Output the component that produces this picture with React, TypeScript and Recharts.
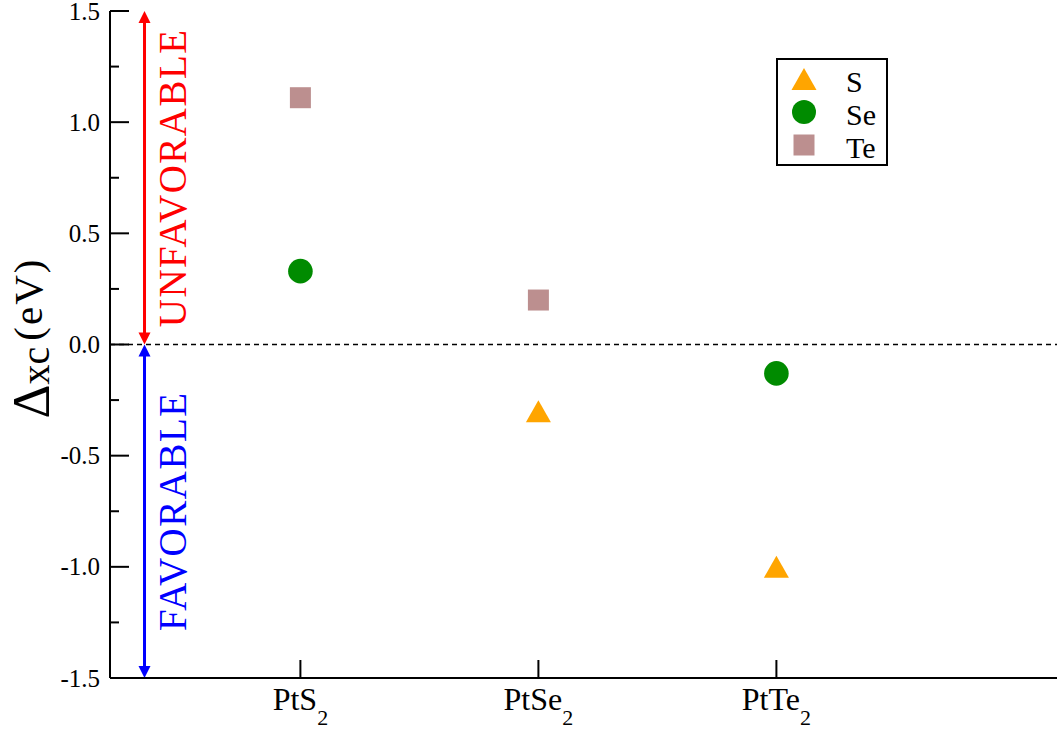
import React from 'react';
import { ScatterChart, Scatter, XAxis, YAxis, ReferenceLine, Legend } from 'recharts';

// ---- data ----
const categories = ['PtS2', 'PtSe2', 'PtTe2'];
const sValues: (number | null)[] = [null, -0.3, -1.0];
const seValues: (number | null)[] = [0.33, null, -0.13];
const teValues: (number | null)[] = [1.11, 0.2, null];
const yTicks = [-1.5, -1.25, -1.0, -0.75, -0.5, -0.25, 0, 0.25, 0.5, 0.75, 1.0, 1.25, 1.5];
const xTicks = [1, 2, 3];
const xDomain: [number, number] = [0.2, 4.2];
const yDomain: [number, number] = [-1.5, 1.5];
const arrowX = 0.345;
const unfavorableLabel = 'UNFAVORABLE';
const favorableLabel = 'FAVORABLE';

const FONT = 'Liberation Serif';
const fontStyle = { fontFamily: 'Liberation Serif' };
const ORANGE = '#FFA500';
const GREEN = '#008B00';
const ROSY = '#BC8F8F';

const toPoints = (vals: (number | null)[]) =>
  vals
    .map((v, i) => (v == null ? null : { x: i + 1, y: v }))
    .filter((p) => p !== null) as { x: number; y: number }[];

const sData = toPoints(sValues);
const seData = toPoints(seValues);
const teData = toPoints(teValues);

const TriangleShape = (props: any) => {
  const { cx, cy } = props;
  return (
    <polygon
      points={`${cx},${cy - 11} ${cx - 12.5},${cy + 11} ${cx + 12.5},${cy + 11}`}
      fill={ORANGE}
    />
  );
};
const CircleShape = (props: any) => {
  const { cx, cy } = props;
  return <circle cx={cx} cy={cy} r={12.3} fill={GREEN} />;
};
const SquareShape = (props: any) => {
  const { cx, cy } = props;
  return <rect x={cx - 10.5} y={cy - 10.5} width={21} height={21} fill={ROSY} />;
};

const isMajor = (v: number) => Math.abs(v * 2 - Math.round(v * 2)) < 1e-6;

const YTickLeft = (props: any) => {
  const { x, y, payload } = props;
  const v = payload.value as number;
  const major = isMajor(v);
  const len = major ? 19 : 9;
  return (
    <g>
      <line x1={x} x2={x + len} y1={y} y2={y} stroke="#000" strokeWidth={2} />
      {major && (
        <text
          x={x - 10}
          y={y + 8.5}
          textAnchor="end"
          fontFamily={FONT}
          style={fontStyle}
          fontSize={25}
          fill="#000"
        >
          {v.toFixed(1)}
        </text>
      )}
    </g>
  );
};

const YTickRight = (props: any) => {
  const { x, y, payload } = props;
  const v = payload.value as number;
  const len = isMajor(v) ? 19 : 9;
  return <line x1={x} x2={x - len} y1={y} y2={y} stroke="#000" strokeWidth={2} />;
};

const XTick = (props: any) => {
  const { x, y, payload } = props;
  const label = categories[Math.round(payload.value) - 1] || '';
  const m = label.match(/^(.*?)(\d+)$/);
  const base = m ? m[1] : label;
  const sub = m ? m[2] : '';
  return (
    <g>
      <line x1={x} x2={x} y1={y} y2={y - 18} stroke="#000" strokeWidth={2} />
      <text
        x={x}
        y={y + 32}
        textAnchor="middle"
        fontFamily={FONT}
        style={fontStyle}
        fontSize={32}
        fill="#000"
      >
        {base}
        {sub && (
          <tspan fontSize={22} dy={15}>
            {sub}
          </tspan>
        )}
      </text>
    </g>
  );
};

const makeArrowShape = (color: string, label: string) => (props: any) => {
  const { x1, y1, y2 } = props;
  const x = x1;
  const top = Math.min(y1, y2);
  const bot = Math.max(y1, y2);
  const head = 12;
  const hw = 6;
  const mid = (top + bot) / 2;
  const tx = x + 41;
  return (
    <g>
      <line x1={x} x2={x} y1={top + head - 1} y2={bot - head + 1} stroke={color} strokeWidth={3} />
      <polygon points={`${x},${top} ${x - hw},${top + head} ${x + hw},${top + head}`} fill={color} />
      <polygon points={`${x},${bot} ${x - hw},${bot - head} ${x + hw},${bot - head}`} fill={color} />
      <text
        x={tx}
        y={mid}
        transform={`rotate(-90 ${tx} ${mid})`}
        textAnchor="middle"
        fill={color}
        fontFamily={FONT}
        style={{ ...fontStyle, letterSpacing: 1.5 }}
        fontSize={39}
      >
        {label}
      </text>
    </g>
  );
};

const YLabel = () => {
  const bx = 49;
  const cy = 338;
  return (
    <text
      x={bx}
      y={cy}
      transform={`rotate(-90 ${bx} ${cy})`}
      textAnchor="middle"
      fontFamily={FONT}
      style={fontStyle}
      fill="#000"
    >
      <tspan fontSize={53}>Δ</tspan>
      <tspan fontSize={40}>xc</tspan>
      <tspan fontSize={41} dx={6} dy={-7} style={{ letterSpacing: 2 }}>
        (eV)
      </tspan>
    </text>
  );
};

const legendItems = [
  { name: 'S', kind: 'triangle', color: ORANGE },
  { name: 'Se', kind: 'circle', color: GREEN },
  { name: 'Te', kind: 'square', color: ROSY },
];

const LegendBox = () => (
  <svg width={112} height={108} style={{ display: 'block' }}>
    <rect x={1} y={1} width={110} height={106} fill="#fff" stroke="#000" strokeWidth={2} />
    {legendItems.map((it, i) => {
      const cy = 21 + i * 33;
      const cx = 28;
      let icon: React.ReactNode = null;
      if (it.kind === 'triangle')
        icon = (
          <polygon
            points={`${cx},${cy - 11} ${cx - 12.5},${cy + 11} ${cx + 12.5},${cy + 11}`}
            fill={it.color}
          />
        );
      else if (it.kind === 'circle') icon = <circle cx={cx} cy={cy} r={12} fill={it.color} />;
      else icon = <rect x={cx - 10.5} y={cy - 10.5} width={21} height={21} fill={it.color} />;
      return (
        <g key={it.name}>
          {icon}
          <text
            x={70}
            y={cy + 13}
            fontFamily={FONT}
            style={fontStyle}
            fontSize={30}
            fill="#000"
          >
            {it.name}
          </text>
        </g>
      );
    })}
  </svg>
);

export default function App() {
  return (
    <div
      style={{
        position: 'fixed',
        left: 0,
        top: 0,
        width: 1057,
        height: 733,
        overflow: 'hidden',
        background: '#fff',
        fontFamily: 'Liberation Serif',
      }}
    >
      <ScatterChart width={1082} height={733} margin={{ top: 11, right: 0, bottom: 0, left: 0 }}>
        <XAxis
          type="number"
          dataKey="x"
          domain={xDomain}
          ticks={xTicks}
          interval={0}
          allowDataOverflow
          height={55}
          tickSize={0}
          tickMargin={0}
          tickLine={false}
          axisLine={{ stroke: '#000', strokeWidth: 2 }}
          tick={<XTick />}
        />
        <XAxis
          xAxisId="top"
          orientation="top"
          type="number"
          domain={xDomain}
          height={0}
          tick={false}
          tickLine={false}
          axisLine={{ stroke: '#000', strokeWidth: 2 }}
        />
        <YAxis
          type="number"
          dataKey="y"
          domain={yDomain}
          ticks={yTicks}
          interval={0}
          allowDataOverflow
          width={110}
          tickSize={0}
          tickMargin={0}
          tickLine={false}
          axisLine={{ stroke: '#000', strokeWidth: 2 }}
          tick={<YTickLeft />}
          label={{ content: () => <YLabel /> }}
        />
        <YAxis
          yAxisId="right"
          orientation="right"
          type="number"
          domain={yDomain}
          ticks={yTicks}
          interval={0}
          width={20}
          tickSize={0}
          tickMargin={0}
          tickLine={false}
          axisLine={{ stroke: '#000', strokeWidth: 2 }}
          tick={<YTickRight />}
        />
        <ReferenceLine y={0} stroke="#000" strokeWidth={1.5} strokeDasharray="5 4" />
        <ReferenceLine
          segment={[
            { x: arrowX, y: 0 },
            { x: arrowX, y: yDomain[1] },
          ]}
          ifOverflow="visible"
          shape={makeArrowShape('#FF0000', unfavorableLabel)}
        />
        <ReferenceLine
          segment={[
            { x: arrowX, y: yDomain[0] },
            { x: arrowX, y: 0 },
          ]}
          ifOverflow="visible"
          shape={makeArrowShape('#0000FF', favorableLabel)}
        />
        <Scatter name="S" data={sData} fill={ORANGE} shape={TriangleShape} isAnimationActive={false} />
        <Scatter name="Se" data={seData} fill={GREEN} shape={CircleShape} isAnimationActive={false} />
        <Scatter name="Te" data={teData} fill={ROSY} shape={SquareShape} isAnimationActive={false} />
        <Legend
          layout="horizontal"
          verticalAlign="middle"
          align="center"
          wrapperStyle={{ position: 'absolute', left: 776, top: 58, width: 112, height: 108 }}
          content={() => <LegendBox />}
        />
      </ScatterChart>
    </div>
  );
}
